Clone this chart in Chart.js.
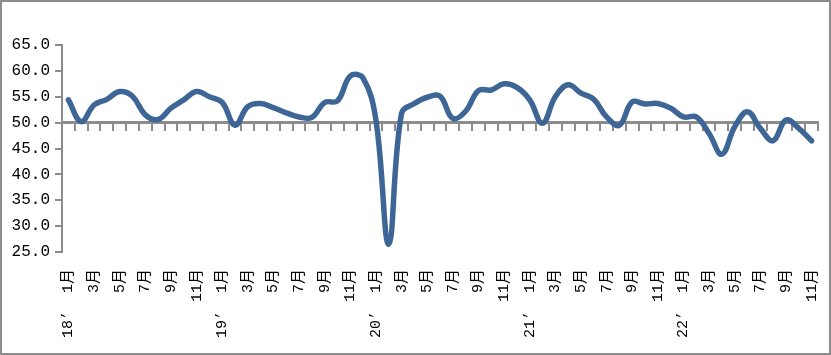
<!DOCTYPE html>
<html>
<head>
<meta charset="utf-8">
<script src="https://cdn.jsdelivr.net/npm/chart.js@4/dist/chart.umd.min.js"></script>
<style>
  html, body { margin: 0; padding: 0; background: #fff; }
  #wrap { width: 831px; height: 355px; box-sizing: border-box; border: 2px solid #8c8c8c; background: #fff; }
  #wrap canvas { display: block; }
</style>
</head>
<body>
<div id="wrap"><canvas id="c" width="827" height="351"></canvas></div>
<script>
// ---- data ----
const years = ["18’", "19’", "20’", "21’", "22’"];
const months = ["1月","2月","3月","4月","5月","6月","7月","8月","9月","10月","11月","12月"];
const categories = [];
for (let y = 0; y < years.length; y++) {
  for (let m = 0; m < 12; m++) {
    if (y === years.length - 1 && m > 10) break;
    categories.push(m === 0 ? years[y] + "  " + months[m] : months[m]);
  }
}
const values = [
  54.4, 50.2, 53.4, 54.5, 56.0, 55.1, 51.5, 50.6, 52.8, 54.4, 56.0, 55.0,
  53.9, 49.5, 53.1, 53.7, 52.9, 51.9, 51.1, 51.0, 53.9, 54.2, 59.0, 58.6,
  50.5, 26.5, 51.8, 53.7, 54.9, 55.1, 50.8, 52.2, 56.2, 56.3, 57.5, 56.8,
  54.4, 49.9, 55.0, 57.3, 55.7, 54.5, 51.1, 49.5, 54.0, 53.6, 53.7, 52.8,
  51.1, 51.1, 47.9, 43.9, 49.2, 52.1, 48.9, 46.5, 50.5, 48.9, 46.5
];
const yMin = 25, yMax = 65, yStep = 5, crossValue = 50;

const axisGray = '#8c8c8c';

new Chart(document.getElementById('c'), {
  type: 'line',
  data: {
    labels: categories,
    datasets: [{
      data: values,
      borderColor: '#3d6596',
      borderWidth: 5.5,
      pointRadius: 0,
      tension: 0.4,
      fill: false,
      borderCapStyle: 'round',
      borderJoinStyle: 'round',
      xAxisID: 'x',
      yAxisID: 'y'
    }]
  },
  options: {
    responsive: false,
    animation: false,
    devicePixelRatio: 1,
    layout: { padding: { top: 43, right: 11, left: 0, bottom: 0 } },
    plugins: { legend: { display: false }, tooltip: { enabled: false } },
    scales: {
      x: {
        type: 'category',
        position: 'bottom',
        offset: true,
        grid: { display: false, drawTicks: false, offset: true },
        border: { display: false },
        ticks: {
          autoSkip: false,
          maxRotation: 90,
          minRotation: 90,
          padding: 17,
          color: '#000',
          font: { family: "'Liberation Mono', 'Noto Sans CJK SC', monospace", size: 15 },
          callback: function (v, i) { return i % 2 === 0 ? this.getLabelForValue(v) : ''; }
        },
        afterFit: s => { s.height = 101; s.paddingLeft = 0; s.paddingRight = 0; }
      },
      x2: {
        type: 'category',
        position: { y: crossValue },
        offset: true,
        grid: { display: true, drawOnChartArea: false, drawTicks: true, tickLength: 7, offset: true, color: axisGray, tickColor: axisGray, lineWidth: 2 },
        border: { display: true, color: axisGray, width: 3 },
        ticks: { display: false, autoSkip: false },
        afterFit: s => { s.paddingLeft = 0; s.paddingRight = 0; }
      },
      y: {
        position: 'left',
        min: yMin,
        max: yMax,
        grid: { display: true, drawOnChartArea: false, drawTicks: true, tickLength: 7, color: axisGray, lineWidth: 2 },
        border: { display: true, color: axisGray, width: 2 },
        ticks: {
          stepSize: yStep,
          padding: 5,
          color: '#000',
          font: { family: "'Liberation Mono', monospace", size: 16 },
          callback: v => Number(v).toFixed(1)
        },
        afterFit: s => { s.width = 60; }
      }
    }
  }
});
</script>
</body>
</html>
